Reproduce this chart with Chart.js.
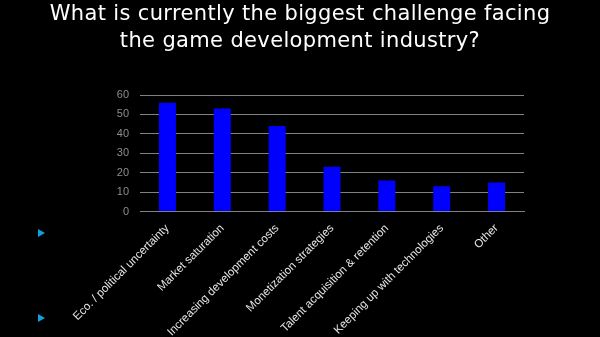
<!DOCTYPE html>
<html>
<head>
<meta charset="utf-8">
<script src="https://cdn.jsdelivr.net/npm/chart.js@4"></script>
<style>
  html, body { margin:0; padding:0; background:#000; width:600px; height:337px; overflow:hidden; }
  #wrap { position:absolute; left:0; top:0; width:600px; height:337px; }
  #title { position:absolute; left:0; top:0px; width:600px; text-align:center; color:#fff;
           font-family:"DejaVu Sans", sans-serif; font-size:21px; line-height:27px; letter-spacing:0.35px; }
  .bullet { position:absolute; width:0; height:0; border-top:4px solid transparent; border-bottom:4px solid transparent; border-left:7px solid #10a0e0; }
</style>
</head>
<body>
<div id="wrap"><canvas id="c" width="600" height="337"></canvas></div>
<div id="title">What is currently the biggest challenge facing<br>the game development industry?</div>
<div class="bullet" style="left:38px; top:229px;"></div>
<div class="bullet" style="left:38px; top:314px;"></div>
<script>
const categories = [
  "Eco. / political uncertainty",
  "Market saturation",
  "Increasing development costs",
  "Monetization strategies",
  "Talent acquisition & retention",
  "Keeping up with technologies",
  "Other"
];
const values = [56, 53, 44, 23, 16, 13, 15];
const yTicks = [0, 10, 20, 30, 40, 50, 60];

new Chart(document.getElementById('c'), {
  type: 'bar',
  data: {
    labels: categories,
    datasets: [{
      data: values,
      backgroundColor: '#0000ff',
      barPercentage: 0.31,
      categoryPercentage: 1.0
    }]
  },
  options: {
    responsive: false,
    animation: false,
    events: [],
    layout: { padding: { left: 100, right: 76, top: 95, bottom: 0 } },
    plugins: { legend: { display: false }, tooltip: { enabled: false }, title: { display: false } },
    scales: {
      x: {
        grid: { display: false, drawTicks: false },
        border: { display: true, color: '#808080', width: 1 },
        ticks: {
          color: '#e6e6e6',
          font: { family: 'Liberation Sans', size: 11.5 },
          minRotation: 45, maxRotation: 45,
          autoSkip: false,
          padding: 10
        },
        afterFit: s => { s.height = 125.5; }
      },
      y: {
        min: 0, max: 60,
        afterBuildTicks: s => { s.ticks = yTicks.map(v => ({ value: v })); },
        grid: { color: '#808080', drawTicks: false, lineWidth: 1 },
        border: { display: false },
        ticks: {
          color: '#8c8c8c',
          font: { family: 'Liberation Sans', size: 11 },
          padding: 11
        },
        afterFit: s => { s.width = 40; }
      }
    }
  }
});
</script>
</body>
</html>
